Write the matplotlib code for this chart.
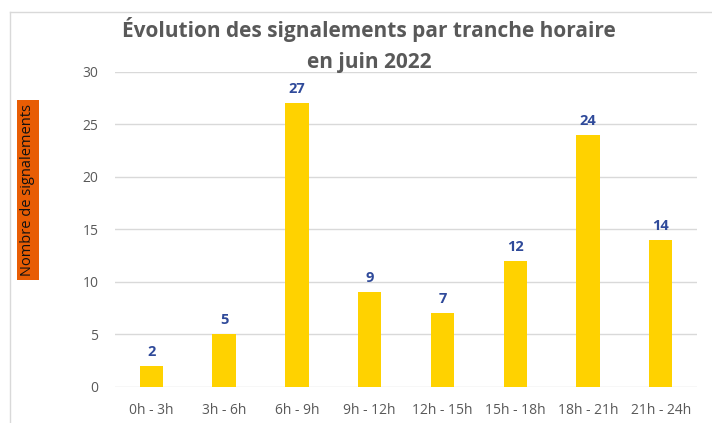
import matplotlib.pyplot as plt
from matplotlib.lines import Line2D

plt.rcParams['font.family'] = ['Open Sans', 'DejaVu Sans']

# données
tranches = ['0h - 3h', '3h - 6h', '6h - 9h', '9h - 12h', '12h - 15h', '15h - 18h', '18h - 21h', '21h - 24h']
signalements = [2, 5, 27, 9, 7, 12, 24, 14]
yticks = [0, 5, 10, 15, 20, 25, 30]

fig = plt.figure(figsize=(7.12, 4.23), dpi=100)
ax = fig.add_axes([0.1615, 0.0858, 0.8175, 0.7447])

x = range(len(tranches))
bars = ax.bar(x, signalements, width=0.32, color='#FFD200', zorder=3)
for xi, v in zip(x, signalements):
    ax.annotate(str(v), (xi, v), xytext=(0, 5), textcoords='offset points',
                ha='center', va='bottom', fontsize=10.5, fontweight='bold', color='#2F4A9A')

ax.set_xlim(-0.5, len(tranches) - 0.5)
ax.set_ylim(0, 30)
ax.set_yticks(yticks)
ax.set_xticks(list(x))
ax.set_xticklabels(tranches)
ax.grid(axis='y', color='#D9D9D9', linewidth=1, zorder=0)
for s in ax.spines.values():
    s.set_visible(False)
ax.tick_params(axis='both', length=0, colors='#595959', labelsize=10)
ax.tick_params(axis='y', pad=12)
ax.tick_params(axis='x', pad=12)

fig.text(0.5185, 0.893, 'Évolution des signalements par tranche horaire\nen juin 2022',
         ha='center', va='center', fontsize=15, fontweight='bold', color='#595959',
         linespacing=1.6)

fig.text(0.0393, 0.551, 'Nombre de signalements', rotation=90, ha='center', va='center',
         fontsize=10.5, color='#111111',
         bbox=dict(boxstyle='square,pad=0.25', facecolor='#E85D04', edgecolor='none'))

# cadre
fig.add_artist(Line2D([0.014, 0.014], [0, 0.972], color='#D9D9D9', linewidth=1))
fig.add_artist(Line2D([0.014, 1.0], [0.972, 0.972], color='#D9D9D9', linewidth=1))

fig.savefig('out.png', dpi=100)
